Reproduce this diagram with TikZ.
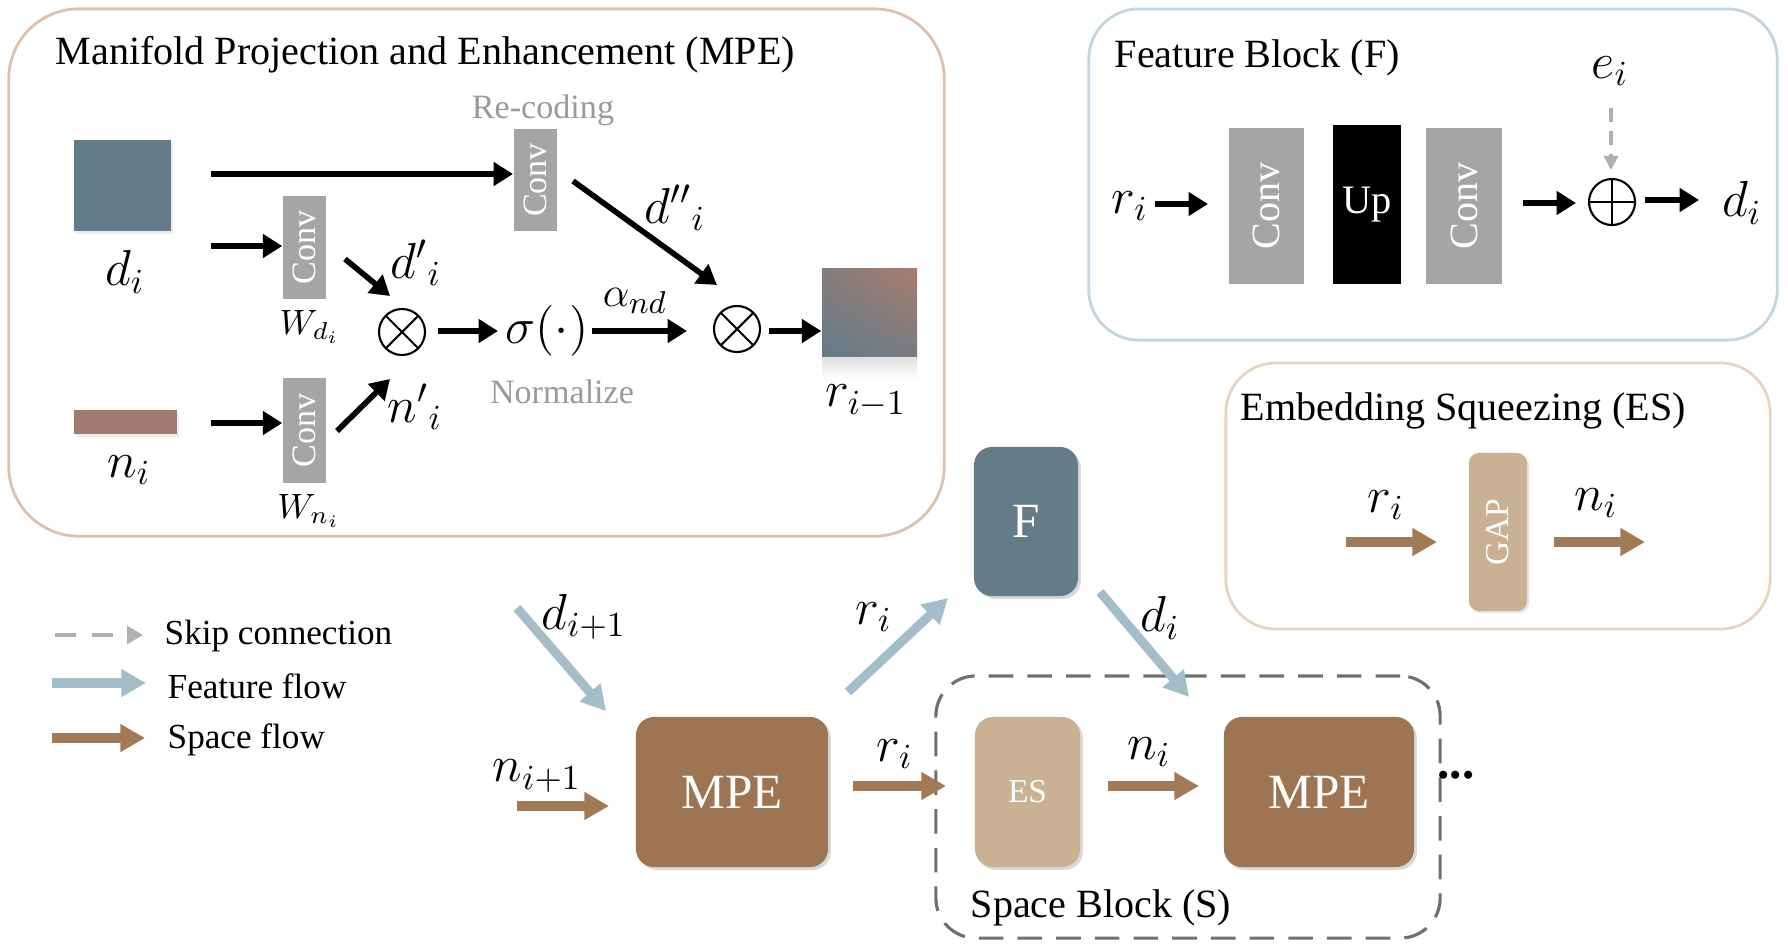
\documentclass[tikz,border=0pt]{standalone}
\usepackage{fontspec}
\setmainfont{Liberation Serif}
\usetikzlibrary{arrows.meta,shadows,shadings,calc}
\definecolor{slate}{HTML}{647C88}
\definecolor{rose}{HTML}{AC7C6E}
\definecolor{nirose}{HTML}{A27A71}
\definecolor{brownbox}{HTML}{9E7552}
\definecolor{tanbox}{HTML}{CBB193}
\definecolor{featarrow}{HTML}{A3BDC9}
\definecolor{spacearrow}{HTML}{A27A55}
\definecolor{convgray}{HTML}{A5A5A5}
\definecolor{mpeborder}{HTML}{DCC2AE}
\definecolor{fbborder}{HTML}{C2D5E0}
\definecolor{esborder}{HTML}{E8D4BE}
\definecolor{graytext}{HTML}{9A9A9A}
\definecolor{skipgray}{HTML}{B0B0B0}
\definecolor{dashgray}{HTML}{707070}
\begin{document}
\begin{tikzpicture}[x=0.01cm,y=-0.01cm,
  ttl/.style={font=\fontsize{11.4}{13}\selectfont, anchor=west, inner sep=0pt},
  lgd/.style={font=\fontsize{10}{12}\selectfont, anchor=west, inner sep=0pt},
  grt/.style={font=\fontsize{9.7}{11}\selectfont, text=graytext, inner sep=0pt},
  ml/.style={font=\fontsize{14}{16}\selectfont, inner sep=0pt},
  outer/.style={draw, rounded corners=0.7cm, line width=0.8pt},
  cv/.style={fill=convgray, rotate=90, text=white, inner sep=0pt, font=\fontsize{9.7}{11}\selectfont},
  cvb/.style={fill=convgray, rotate=90, text=white, inner sep=0pt, font=\fontsize{11.4}{13}\selectfont},
  bigbox/.style={rounded corners=0.18cm, text=white, inner sep=0pt, font=\fontsize{14}{16}\selectfont,
     drop shadow={opacity=0.3, shadow xshift=0.8pt, shadow yshift=-0.8pt}},
  blk/.style={line width=1.6pt, -{Triangle[length=5.5pt,width=6.5pt]}},
  feat/.style={draw=featarrow, line width=2.6pt, -{Triangle[length=7pt,width=7.5pt]}, color=featarrow},
  spc/.style={draw=spacearrow, line width=2.6pt, -{Triangle[length=7pt,width=7.5pt]}, color=spacearrow},
  otimes/.style={circle, draw, minimum size=0.46cm, inner sep=0pt, line width=0.6pt,
     path picture={\draw[line width=0.6pt] (path picture bounding box.north west) -- (path picture bounding box.south east)
       (path picture bounding box.north east) -- (path picture bounding box.south west);}},
  oplus/.style={circle, draw, minimum size=0.46cm, inner sep=0pt, line width=0.6pt,
     path picture={\draw[line width=0.6pt] (path picture bounding box.north) -- (path picture bounding box.south)
       (path picture bounding box.west) -- (path picture bounding box.east);}}
]
\useasboundingbox (0,0) rectangle (1788,948);

% ---------- outer frames ----------
\node[outer, draw=mpeborder, minimum width=9.35cm, minimum height=5.27cm] (mpebox) at (476.5,272.5) {};
\node[outer, draw=fbborder, rounded corners=0.5cm, minimum width=6.88cm, minimum height=3.31cm] (fbbox) at (1433,174.5) {};
\node[outer, draw=esborder, rounded corners=0.5cm, minimum width=5.44cm, minimum height=2.66cm] (esbox) at (1498,496) {};
\node[draw=dashgray, dash pattern=on 7pt off 4pt, line width=0.9pt, rounded corners=0.4cm, minimum width=5.04cm, minimum height=2.62cm] (sbbox) at (1188,807) {};

\node[ttl] (mpetitle) at (55,55) {Manifold Projection and Enhancement (MPE)};
\node[ttl] (fbtitle) at (1114,58) {Feature Block (F)};
\node[ttl] (estitle) at (1240,411) {Embedding Squeezing (ES)};
\node[ttl] (sbtitle) at (970,908) {Space Block (S)};

% ---------- MPE interior ----------
\node[fill=slate, minimum width=0.97cm, minimum height=0.91cm, inner sep=0pt,
  drop shadow={opacity=0.15, shadow xshift=0.5pt, shadow yshift=-0.8pt}] (di) at (122.5,185.5) {};
\node[fill=nirose, minimum width=1.03cm, minimum height=0.24cm, inner sep=0pt,
  drop shadow={opacity=0.15, shadow xshift=0.5pt, shadow yshift=-0.8pt}] (ni) at (125.5,422) {};
\node[ml] (dil) at (125,272) {$d_i$};
\node[ml] (nil) at (129,470) {$n_i$};

\node[cv, minimum width=1.02cm, minimum height=0.43cm] (cr) at (535.5,180) {Conv};
\node[grt] (recode) at (543,110) {Re-coding};
\node[cv, minimum width=1.03cm, minimum height=0.43cm] (cwd) at (304.5,247.5) {Conv};
\node[cv, minimum width=1.05cm, minimum height=0.43cm] (cwn) at (304.5,430.5) {Conv};
\node[font=\fontsize{10}{12}\selectfont, inner sep=0pt] (wdl) at (310,327) {$W_{d_i}$};
\node[font=\fontsize{10}{12}\selectfont, inner sep=0pt] (wnl) at (309,511) {$W_{n_i}$};

\node[otimes] (o1) at (402,332) {};
\node[otimes] (o2) at (737,329) {};
\node[ml] (sig) at (547,331) {$\sigma(\cdot)$};
\node[grt] (norm) at (562,392) {Normalize};

\shade[upper right=rose, lower left=slate, upper left=slate!55!rose, lower right=slate!75!rose]
  (822,268) rectangle (917,357);
\node[minimum width=0.95cm, minimum height=0.89cm, inner sep=0pt] (rprev) at (869.5,312.5) {};
\shade[top color=black!12, bottom color=white] (822,357) rectangle (917,380);
\node[ml] (rprevl) at (866,401) {$r_{i-1}$};

\coordinate (t1s) at (211,174);  \coordinate (t1e) at (513,174);
\coordinate (t2s) at (211,246);  \coordinate (t2e) at (cwd.north |- 0,246);
\coordinate (t3s) at (211,423);  \coordinate (t3e) at (cwn.north |- 0,423);
\coordinate (dps) at (345,259);  \coordinate (dpe) at (390,296);
\coordinate (nps) at (337,431);  \coordinate (npe) at (390,379);
\coordinate (o1e) at (438,331);  \coordinate (sge) at (498,331);
\coordinate (ans) at (592,331);  \coordinate (ane) at (687,331);
\coordinate (rcs) at (573,181);  \coordinate (rce) at (717,285);
\coordinate (o2e) at (769,331);

\draw[blk] (t1s) -- (t1e);
\draw[blk] (t2s) -- (t2e);
\draw[blk] (t3s) -- (t3e);
\draw[blk] (dps) -- (dpe);
\draw[blk] (nps) -- (npe);
\draw[blk] (o1e) -- (sge);
\draw[blk] (ans) -- (ane);
\draw[blk] (rcs) -- (rce);
\draw[blk] (o2e) -- (rprev.west |- o2e);

\node[ml] (dppl) at (675,208) {${d''}_{i}$};
\node[ml] (dpl) at (416,263) {${d'}_{i}$};
\node[ml] (npl) at (415,407) {${n'}_{i}$};
\node[font=\fontsize{12.5}{14}\selectfont, inner sep=0pt] (alpha) at (635,301) {$\alpha_{nd}$};

% ---------- Feature Block interior ----------
\node[ml] (fbri) at (1130,206) {$r_i$};
\node[cvb, minimum width=1.56cm, minimum height=0.75cm] (fc1) at (1266.5,206) {Conv};
\node[fill=black, text=white, inner sep=0pt, minimum width=0.68cm, minimum height=1.59cm,
  font=\fontsize{11.5}{13}\selectfont] (up) at (1367,204.5) {Up};
\node[cvb, minimum width=1.56cm, minimum height=0.76cm] (fc2) at (1464,206) {Conv};
\node[oplus] (op) at (1612,202) {};
\node[ml] (ei) at (1610,71) {$e_i$};
\node[ml] (fbdi) at (1742,203) {$d_i$};
\coordinate (fa1s) at (1155,204); \coordinate (fa1e) at (1208,204);
\coordinate (fa2s) at (1523,203); \coordinate (fa2e) at (1576,203);
\coordinate (fa3s) at (1645,200); \coordinate (fa3e) at (1699,200);
\coordinate (eis) at (1611,108); \coordinate (eie) at (1611,170);
\draw[blk] (fa1s) -- (fa1e);
\draw[blk] (fa2s) -- (fa2e);
\draw[blk] (fa3s) -- (fa3e);
\draw[draw=skipgray, line width=0.9pt, dash pattern=on 4pt off 2.5pt, -{Triangle[length=4pt,width=4pt]}, color=skipgray]
  (eis) -- (eie);

% ---------- ES interior ----------
\node[fill=tanbox, rounded corners=0.1cm, rotate=90, text=white, inner sep=0pt, minimum width=1.58cm,
  minimum height=0.58cm, font=\fontsize{9.5}{11}\selectfont,
  drop shadow={opacity=0.2, shadow xshift=0.6pt, shadow yshift=-0.6pt}] (gap) at (1498,532) {GAP};
\coordinate (ea1s) at (1346,542); \coordinate (ea1e) at (1437,542);
\coordinate (ea2s) at (1554,542); \coordinate (ea2e) at (1645,542);
\draw[spc] (ea1s) -- (ea1e);
\draw[spc] (ea2s) -- (ea2e);
\node[ml] (esri) at (1386,505) {$r_i$};
\node[ml] (esni) at (1596,503) {$n_i$};

% ---------- Legend ----------
\coordinate (l1s) at (55,635); \coordinate (l1e) at (143,635);
\coordinate (l2s) at (52,683); \coordinate (l2e) at (146,683);
\coordinate (l3s) at (52,738); \coordinate (l3e) at (145,738);
\draw[draw=skipgray, line width=1.3pt, dash pattern=on 6pt off 4.5pt, -{Triangle[length=4.5pt,width=5pt]}, color=skipgray] (l1s) -- (l1e);
\draw[feat] (l2s) -- (l2e);
\draw[spc] (l3s) -- (l3e);
\node[lgd] (lt1) at (164,636) {Skip connection};
\node[lgd] (lt2) at (167,686) {Feature flow};
\node[lgd] (lt3) at (167,740) {Space flow};

% ---------- main flow ----------
\node[bigbox, fill=brownbox, minimum width=1.92cm, minimum height=1.50cm] (mpe1) at (732,792) {MPE};
\node[bigbox, fill=tanbox, minimum width=1.05cm, minimum height=1.50cm, font=\fontsize{9.5}{11}\selectfont] (es) at (1027.5,792) {ES};
\node[bigbox, fill=brownbox, minimum width=1.90cm, minimum height=1.50cm] (mpe2) at (1319,792) {MPE};
\node[bigbox, fill=slate, minimum width=1.04cm, minimum height=1.49cm] (F) at (1026,521.5) {F};
\node[font=\bfseries\fontsize{14}{16}\selectfont, inner sep=0pt] (dots) at (1456,775) {...};

\coordinate (b1s) at (517,608); \coordinate (b1e) at (606,711);
\coordinate (b2s) at (848,692); \coordinate (b2e) at (948,598);
\coordinate (b3s) at (1100,592); \coordinate (b3e) at (1189,697);
\coordinate (b4s) at (517,806); \coordinate (b4e) at (609,806);
\coordinate (b5s) at (853,786); \coordinate (b5e) at (946,786);
\coordinate (b6s) at (1108,786); \coordinate (b6e) at (1199,786);
\draw[feat] (b1s) -- (b1e);
\draw[feat] (b2s) -- (b2e);
\draw[feat] (b3s) -- (b3e);
\draw[spc] (b4s) -- (b4e);
\draw[spc] (b5s) -- (b5e);
\draw[spc] (b6s) -- (b6e);

\node[ml] (ldi1) at (584,617) {$d_{i+1}$};
\node[ml] (lri1) at (874,617) {$r_i$};
\node[ml] (ldi) at (1160,618) {$d_i$};
\node[ml] (lni1) at (537,776) {$n_{i+1}$};
\node[ml] (lri2) at (895,754) {$r_i$};
\node[ml] (lni) at (1149,752) {$n_i$};
\end{tikzpicture}
\end{document}
